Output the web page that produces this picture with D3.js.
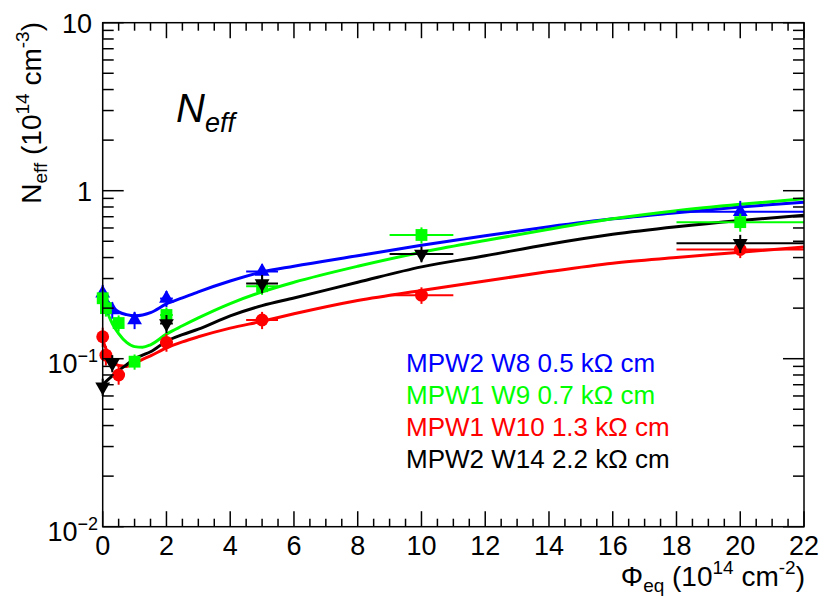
<!DOCTYPE html>
<html>
<head>
<meta charset="utf-8">
<script src="https://cdn.jsdelivr.net/npm/d3@7"></script>
<style>
  html, body { margin: 0; padding: 0; background: #fff; }
  svg { display: block; }
  text { font-family: "Liberation Sans", Arial, Helvetica, sans-serif; }
</style>
</head>
<body>
<svg id="chart" width="826" height="596"></svg>
<script>
// ---- measured points: fluence (1e14 cm^-2) and N_eff (1e14 cm^-3) ----
const w8Phi   = [0, 0.3, 1, 2, 5, 20];
const w8N     = [0.245, 0.195, 0.17, 0.228, 0.33, 0.75];
const w8NErr  = [0.03, 0.022, 0.02, 0.025, 0.035, 0.12];
const w8PhiErr= [0, 0, 0, 0.2, 0.5, 2];

const w9Phi   = [0, 0.1, 0.5, 1, 2, 5, 10, 20];
const w9N     = [0.229, 0.2, 0.163, 0.096, 0.182, 0.27, 0.545, 0.65];
const w9NErr  = [0.025, 0.022, 0.018, 0.01, 0.02, 0.03, 0.06, 0.08];
const w9PhiErr= [0, 0, 0, 0, 0.2, 0.5, 1, 2];

const w10Phi   = [0, 0.1, 0.5, 2, 5, 10, 20];
const w10N     = [0.135, 0.105, 0.08, 0.125, 0.17, 0.239, 0.447];
const w10NErr  = [0.018, 0.014, 0.01, 0.015, 0.02, 0.027, 0.05];
const w10PhiErr= [0, 0, 0, 0.2, 0.5, 1, 2];

const w14Phi   = [0, 0.3, 2, 5, 10, 20];
const w14N     = [0.068, 0.094, 0.162, 0.28, 0.42, 0.486];
const w14NErr  = [0.008, 0.011, 0.02, 0.035, 0.045, 0.06];
const w14PhiErr= [0, 0, 0.2, 0.5, 1, 2];

// ---- fitted curves, sampled along fluence ----
const fitPhi = [0, 0.1, 0.3, 0.5, 0.75, 1, 1.25, 1.5, 2, 2.5, 3, 4, 5, 6, 8, 10, 12, 14, 16, 18, 20, 22];
const fitW8  = [0.245, 0.228, 0.203, 0.19, 0.183, 0.18, 0.182, 0.188, 0.212, 0.23, 0.25, 0.29, 0.328, 0.355, 0.41, 0.473, 0.54, 0.61, 0.68, 0.74, 0.8, 0.855];
const fitW9  = [0.23, 0.2, 0.162, 0.141, 0.125, 0.118, 0.117, 0.121, 0.14, 0.157, 0.175, 0.213, 0.25, 0.285, 0.355, 0.43, 0.505, 0.59, 0.68, 0.76, 0.83, 0.895];
const fitW10 = [0.13, 0.115, 0.098, 0.091, 0.09, 0.094, 0.099, 0.104, 0.116, 0.126, 0.135, 0.152, 0.167, 0.185, 0.222, 0.255, 0.29, 0.33, 0.37, 0.4, 0.43, 0.463];
const fitW14 = [0.07, 0.073, 0.079, 0.085, 0.092, 0.1, 0.105, 0.11, 0.127, 0.139, 0.15, 0.18, 0.207, 0.23, 0.285, 0.352, 0.41, 0.48, 0.55, 0.61, 0.665, 0.715];

// ---- legend / axis labels ----
const seriesNames = ["MPW2 W8 0.5 k\u03A9 cm", "MPW1 W9 0.7 k\u03A9 cm", "MPW1 W10 1.3 k\u03A9 cm", "MPW2 W14 2.2 k\u03A9 cm"];
const seriesColors = ["#0000ff", "#00ff00", "#ff0000", "#000000"];
const xTickValues = [0, 2, 4, 6, 8, 10, 12, 14, 16, 18, 20, 22];
const yDecades = [0.01, 0.1, 1, 10];

const series = [
  { name: seriesNames[0], color: seriesColors[0], shape: "up",     phi: w8Phi,  n: w8N,  nErr: w8NErr,  phiErr: w8PhiErr,  fit: fitW8 },
  { name: seriesNames[1], color: seriesColors[1], shape: "square", phi: w9Phi,  n: w9N,  nErr: w9NErr,  phiErr: w9PhiErr,  fit: fitW9 },
  { name: seriesNames[2], color: seriesColors[2], shape: "circle", phi: w10Phi, n: w10N, nErr: w10NErr, phiErr: w10PhiErr, fit: fitW10 },
  { name: seriesNames[3], color: seriesColors[3], shape: "down",   phi: w14Phi, n: w14N, nErr: w14NErr, phiErr: w14PhiErr, fit: fitW14 }
];

const svg = d3.select("#chart");
const L = 102.7, R = 804, T = 22.7, B = 526.7;

const x = d3.scaleLinear().domain([0, 22]).range([L, R]);
const y = d3.scaleLog().domain([0.01, 10]).range([B, T]);

svg.append("rect").attr("width", 826).attr("height", 596).attr("fill", "#fff");

// ---- curves ----
const line = d3.line()
  .x(d => x(d[0])).y(d => y(d[1]))
  .curve(d3.curveMonotoneX);

series.forEach(s => {
  svg.append("path")
    .datum(fitPhi.map((p, i) => [p, s.fit[i]]))
    .attr("d", line)
    .attr("fill", "none")
    .attr("stroke", s.color)
    .attr("stroke-width", 3)
    .attr("stroke-linejoin", "round");
});

// ---- error bars and markers ----
series.forEach(s => {
  const g = svg.append("g");
  s.phi.forEach((p, i) => {
    const v = s.n[i];
    g.append("line")
      .attr("x1", x(p)).attr("x2", x(p))
      .attr("y1", y(v - s.nErr[i])).attr("y2", y(v + s.nErr[i]))
      .attr("stroke", s.color).attr("stroke-width", 2);
    if (s.phiErr[i] > 0) {
      g.append("line")
        .attr("x1", x(p - s.phiErr[i])).attr("x2", x(Math.min(22, p + s.phiErr[i])))
        .attr("y1", y(v)).attr("y2", y(v))
        .attr("stroke", s.color).attr("stroke-width", 2);
    }
  });
  s.phi.forEach((p, i) => {
    const cx = x(p), cy = y(s.n[i]);
    let sym;
    if (s.shape === "square") sym = d3.symbol(d3.symbolSquare, 140);
    else if (s.shape === "circle") sym = d3.symbol(d3.symbolCircle, 130);
    else sym = d3.symbol(d3.symbolTriangle, 95);
    const rot = s.shape === "down" ? " rotate(180)" : "";
    g.append("path")
      .attr("d", sym())
      .attr("transform", `translate(${cx},${cy})${rot}`)
      .attr("fill", s.color);
  });
});

// ---- frame and ticks ----
const axisG = svg.append("g").attr("stroke", "#000").attr("stroke-width", 1.5);
axisG.append("rect")
  .attr("x", L).attr("y", T).attr("width", R - L).attr("height", B - T)
  .attr("fill", "none");

// x ticks: major every 2, minor every 0.5, on bottom and top
const xMinor = d3.range(0, 22.001, 0.5);
xMinor.forEach(v => {
  const major = Math.abs(v / 2 - Math.round(v / 2)) < 1e-6;
  const len = major ? 15.5 : 8;
  axisG.append("line").attr("x1", x(v)).attr("x2", x(v)).attr("y1", B).attr("y2", B - len);
  axisG.append("line").attr("x1", x(v)).attr("x2", x(v)).attr("y1", T).attr("y2", T + len);
});

// y ticks: decades and 2..9 subdivisions, on left and right
yDecades.forEach((d, k) => {
  axisG.append("line").attr("x1", L).attr("x2", L + 21).attr("y1", y(d)).attr("y2", y(d));
  axisG.append("line").attr("x1", R).attr("x2", R - 21).attr("y1", y(d)).attr("y2", y(d));
  if (k < yDecades.length - 1) {
    for (let m = 2; m <= 9; m++) {
      const v = d * m;
      axisG.append("line").attr("x1", L).attr("x2", L + 11).attr("y1", y(v)).attr("y2", y(v));
      axisG.append("line").attr("x1", R).attr("x2", R - 11).attr("y1", y(v)).attr("y2", y(v));
    }
  }
});

// x tick labels
svg.append("g").selectAll("text").data(xTickValues).join("text")
  .attr("x", d => x(d)).attr("y", 555)
  .attr("text-anchor", "middle")
  .attr("font-size", 27)
  .text(d => d);

// y tick labels
const yLab = svg.append("g").attr("font-size", 27).attr("text-anchor", "end");
yLab.append("text").attr("x", 92).attr("y", y(10) + 10).text("10");
yLab.append("text").attr("x", 92).attr("y", y(1) + 10).text("1");
[[0.1, "\u22121"], [0.01, "\u22122"]].forEach(([v, e]) => {
  const t = yLab.append("text").attr("x", 98).attr("y", y(v) + 14);
  t.append("tspan").text("10");
  t.append("tspan").attr("font-size", 18).attr("dy", -11).text(e);
});

// axis titles
const xt = svg.append("text")
  .attr("x", 805).attr("y", 586)
  .attr("text-anchor", "end").attr("font-size", 28);
xt.append("tspan").text("\u03A6");
xt.append("tspan").attr("font-size", 19).attr("dy", 6).text("eq");
xt.append("tspan").attr("dy", -6).text(" (10");
xt.append("tspan").attr("font-size", 19).attr("dy", -12).text("14");
xt.append("tspan").attr("dy", 12).text(" cm");
xt.append("tspan").attr("font-size", 19).attr("dy", -12).text("-2");
xt.append("tspan").attr("dy", 12).text(")");

const yt = svg.append("text")
  .attr("transform", "translate(41,22) rotate(-90)")
  .attr("text-anchor", "end").attr("font-size", 28);
yt.append("tspan").text("N");
yt.append("tspan").attr("font-size", 19).attr("dy", 6).text("eff");
yt.append("tspan").attr("dy", -6).text(" (10");
yt.append("tspan").attr("font-size", 19).attr("dy", -12).text("14");
yt.append("tspan").attr("dy", 12).text(" cm");
yt.append("tspan").attr("font-size", 19).attr("dy", -12).text("-3");
yt.append("tspan").attr("dy", 12).text(")");

// plot annotation
const ann = svg.append("text")
  .attr("x", 176).attr("y", 122)
  .attr("font-family", "'Open Sans', Lato, sans-serif")
  .attr("font-style", "italic")
  .attr("font-size", 40);
ann.append("tspan").text("N");
ann.append("tspan").attr("font-size", 27).attr("dy", 10).text("eff");

// legend
svg.append("g").selectAll("text").data(series).join("text")
  .attr("x", 406).attr("y", (d, i) => 372 + i * 32)
  .attr("font-size", 26)
  .attr("fill", d => d.color)
  .text(d => d.name);
</script>
</body>
</html>
